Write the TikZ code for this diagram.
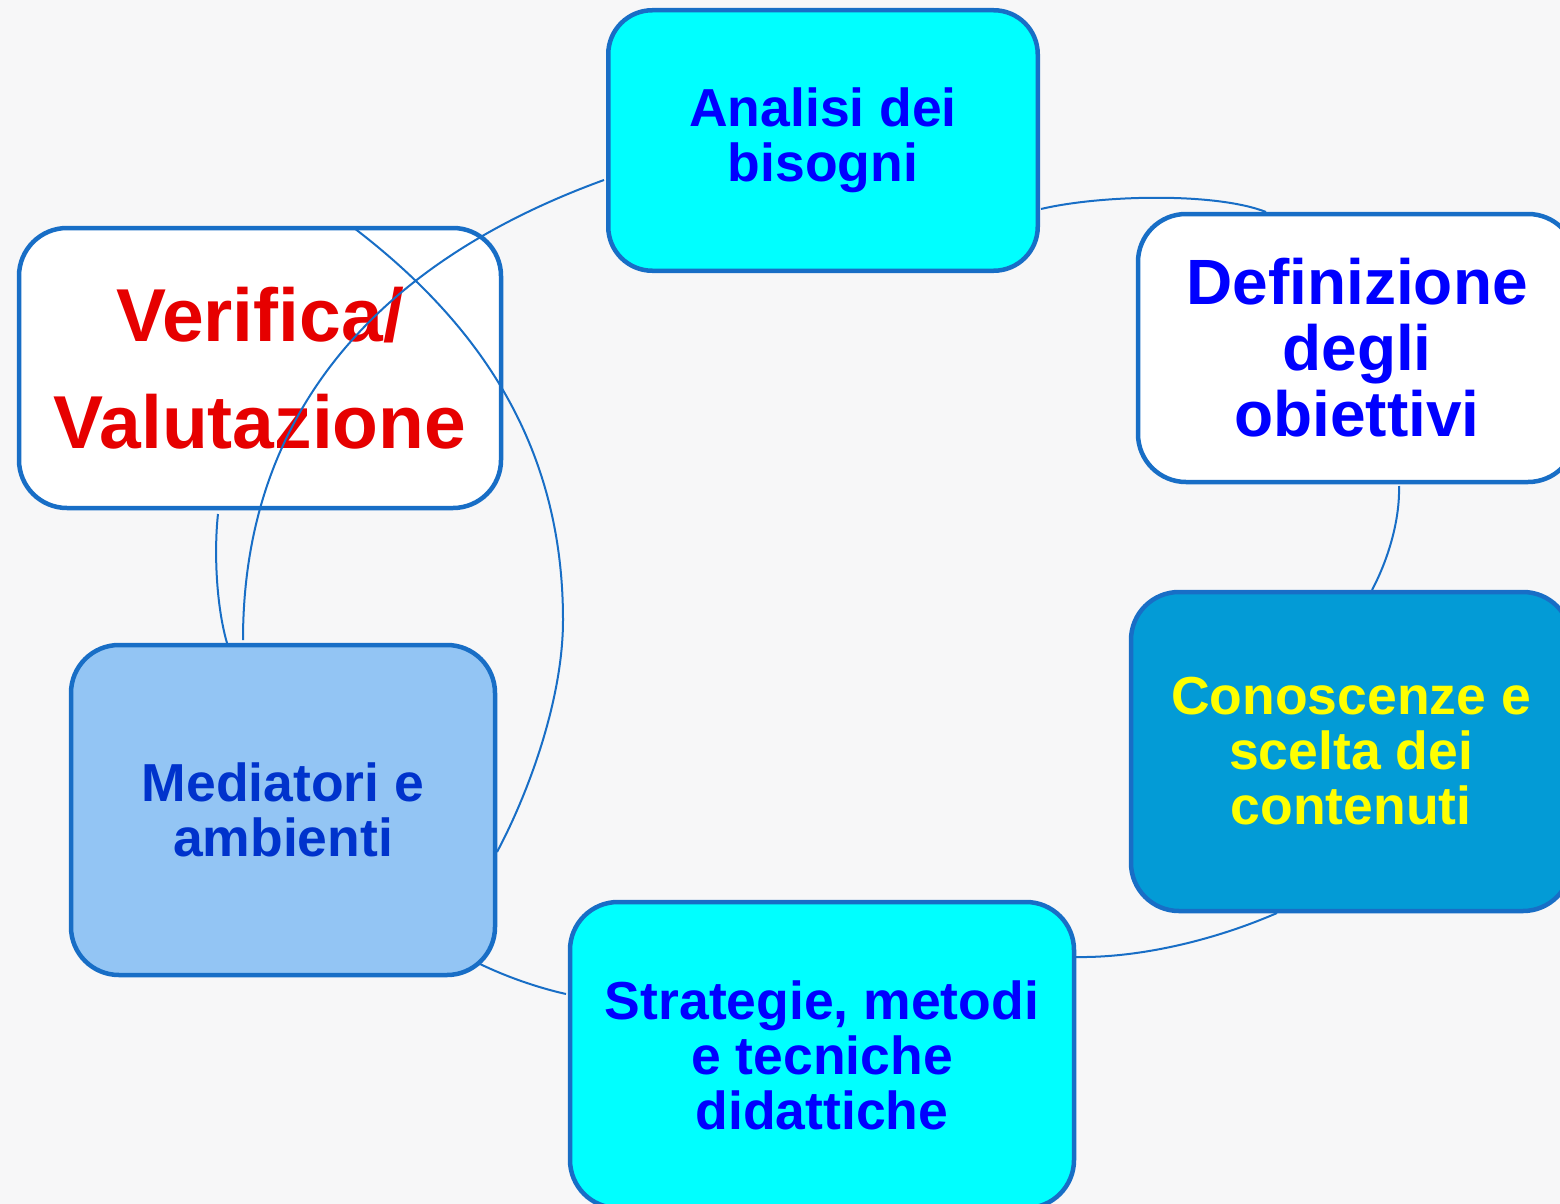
\documentclass[tikz,border=0pt]{standalone}
\usepackage{fontspec}
\setmainfont{Liberation Sans}
\usetikzlibrary{calc}
\definecolor{bgc}{RGB}{247,247,248}
\definecolor{edgec}{RGB}{24,110,198}
\definecolor{cyanf}{RGB}{0,255,255}
\definecolor{conf}{RGB}{3,155,214}
\definecolor{medf}{RGB}{147,197,244}
\definecolor{bluet}{RGB}{0,0,255}
\definecolor{medt}{RGB}{0,51,204}
\definecolor{redt}{RGB}{230,0,0}
\definecolor{yelt}{RGB}{255,255,0}
\begin{document}
\begin{tikzpicture}[x=1pt,y=-1pt,
  boxst/.style={draw=edgec, line width=4.5pt, rounded corners=48pt, inner sep=0pt, outer sep=0pt,
    align=center, font=\bfseries\fontsize{53.5}{55}\selectfont},
  link/.style={draw=edgec, line width=2pt}]
\useasboundingbox (0,0) rectangle (1560,1204);
\clip (0,0) rectangle (1560,1204);
\fill[bgc] (0,0) rectangle (1560,1204);

\node[boxst, fill=cyanf, text=bluet, rounded corners=44pt, minimum width=429.5pt, minimum height=260.5pt] (ana) at (823,140.5) {Analisi dei\\bisogni};
\node[boxst, fill=white, text=bluet, font=\bfseries\fontsize{64}{66}\selectfont, minimum width=438pt, minimum height=268pt] (def) at (1357,348) {Definizione\\degli\\obiettivi};
\node[boxst, fill=white, text=redt, font=\bfseries\fontsize{75}{107}\selectfont, minimum width=482pt, minimum height=280pt] (ver) at (260,368) {Verifica/\\Valutazione};
\node[boxst, fill=conf, text=yelt, minimum width=440pt, minimum height=319pt] (con) at (1351,751.5) {Conoscenze e\\scelta dei\\contenuti};
\node[boxst, fill=cyanf, text=bluet, minimum width=504pt, minimum height=306pt] (str) at (822,1055) {Strategie, metodi\\e tecniche\\didattiche};
\node[boxst, fill=medf, text=medt, minimum width=424pt, minimum height=330pt] (med) at (283,810) {Mediatori e\\ambienti};

% connector end points, relative to the nodes
\coordinate (a1) at ($(ana.center)+(218,68.5)$);
\coordinate (a2) at ($(def.center)+(-91,-136)$);
\coordinate (b1) at ($(def.center)+(42,138)$);
\coordinate (b2) at ($(con.center)+(21,-161.5)$);
\coordinate (c1) at ($(con.center)+(-74,161.5)$);
\coordinate (c2) at ($(str.center)+(254,-98)$);
\coordinate (d1) at ($(med.center)+(197,154)$);
\coordinate (d2) at ($(str.center)+(-256,-61)$);
\coordinate (e1) at ($(ver.center)+(-42,146)$);
\coordinate (e2) at ($(med.center)+(-56,-167)$);
\coordinate (f1) at ($(med.center)+(-40,-170)$);
\coordinate (f2) at ($(ana.center)+(-219,39.5)$);
\coordinate (g1) at ($(ver.center)+(94,-140)$);
\coordinate (g2) at ($(med.center)+(214,42)$);

\draw[link] (a1) .. controls (1100,195) and (1215,192) .. (a2);
\draw[link] (b1) .. controls (1400,520) and (1388,560) .. (b2);
\draw[link] (c1) .. controls (1215,940) and (1140,958) .. (c2);
\draw[link] (d1) .. controls (505,976) and (535,987) .. (d2);
\draw[link] (e1) .. controls (214,550) and (216,605) .. (e2);
\draw[link] (f1) .. controls (243,420) and (370,265) .. (f2);
\draw[link] (g1) .. controls (474,320) and (563,440) .. (563,620)
                 .. controls (563,700) and (528,794) .. (g2);
\end{tikzpicture}
\end{document}
